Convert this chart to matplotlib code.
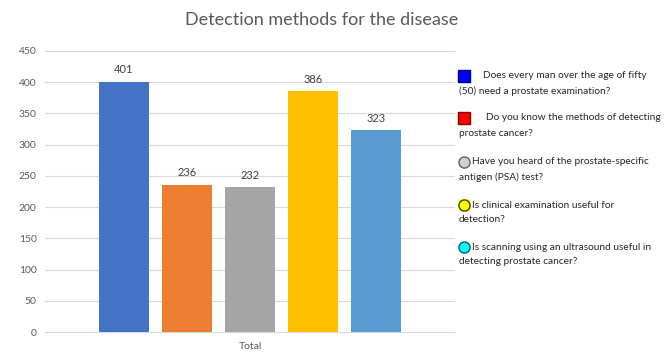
import matplotlib.pyplot as plt
from matplotlib.lines import Line2D

questions = [
    'Does every man over the age of fifty\n(50) need a prostate examination?',
    'Do you know the methods of detecting\nprostate cancer?',
    'Have you heard of the prostate-specific\nantigen (PSA) test?',
    'Is clinical examination useful for\ndetection?',
    'Is scanning using an ultrasound useful in\ndetecting prostate cancer?',
]
counts = [401, 236, 232, 386, 323]
bar_colors = ['#4472C4', '#ED7D31', '#A5A5A5', '#FFC000', '#5B9BD5']
y_ticks = [0, 50, 100, 150, 200, 250, 300, 350, 400, 450]

plt.rcParams['font.family'] = ['Lato', 'DejaVu Sans']

W, H = 665, 353
fig = plt.figure(figsize=(W / 100, H / 100), dpi=100)
ax = fig.add_axes([45 / W, 1 - 332 / H, 410 / W, 281 / H])

xs = list(range(len(counts)))
bars = ax.bar(xs, counts, width=0.78, color=bar_colors, zorder=3)
for b, v in zip(bars, counts):
    ax.text(b.get_x() + b.get_width() / 2, v + 10, str(v), ha='center', va='bottom',
            fontsize=8, color='#404040')

ax.set_xlim(2 - 3.254, 2 + 3.254)
ax.set_ylim(0, 450)
ax.set_yticks(y_ticks)
ax.yaxis.grid(True, color='#D9D9D9', linewidth=0.8, zorder=0)
ax.set_xticks([2])
ax.set_xticklabels(['Total'])
ax.tick_params(axis='both', length=0, labelsize=7.5, labelcolor='#595959', pad=6)
ax.tick_params(axis='x', pad=7)
for s in ax.spines.values():
    s.set_visible(False)
ax.spines['bottom'].set_visible(True)
ax.spines['bottom'].set_color('#D9D9D9')

fig.text(322 / W, 1 - 20 / H, 'Detection methods for the disease', ha='center', va='center',
         fontsize=13, color='#595959')

# hand-drawn style legend on the right
markers = [
    dict(marker='s', mfc='#0000FF', mec='#00008B'),
    dict(marker='s', mfc='#FF0000', mec='#8B0000'),
    dict(marker='o', mfc='#D0D0D0', mec='#606060'),
    dict(marker='o', mfc='#FFFF00', mec='#404000'),
    dict(marker='o', mfc='#00FFFF', mec='#006060'),
]
ys = [76, 118, 162, 205, 247]
indent = [483, 486, 472, 472, 472]
for q, m, y, xi in zip(questions, markers, ys, indent):
    first, second = q.split('\n')
    if m['marker'] == 'o' and m['mfc'] == '#FFFF00':
        fig.add_artist(Line2D([464 / W], [1 - y / H], marker='s', markersize=9,
                              mfc='#FFFF00', mec='none', linestyle='none',
                              transform=fig.transFigure))
    fig.add_artist(Line2D([464 / W], [1 - y / H], markersize=8, linestyle='none',
                          transform=fig.transFigure, **m))
    fig.text(xi / W, 1 - y / H, first, ha='left', va='center', fontsize=7.3, color='#262626')
    fig.text(459 / W, 1 - (y + 15) / H, second, ha='left', va='center', fontsize=7.3,
             color='#262626')

fig.savefig('out.png', dpi=100)
